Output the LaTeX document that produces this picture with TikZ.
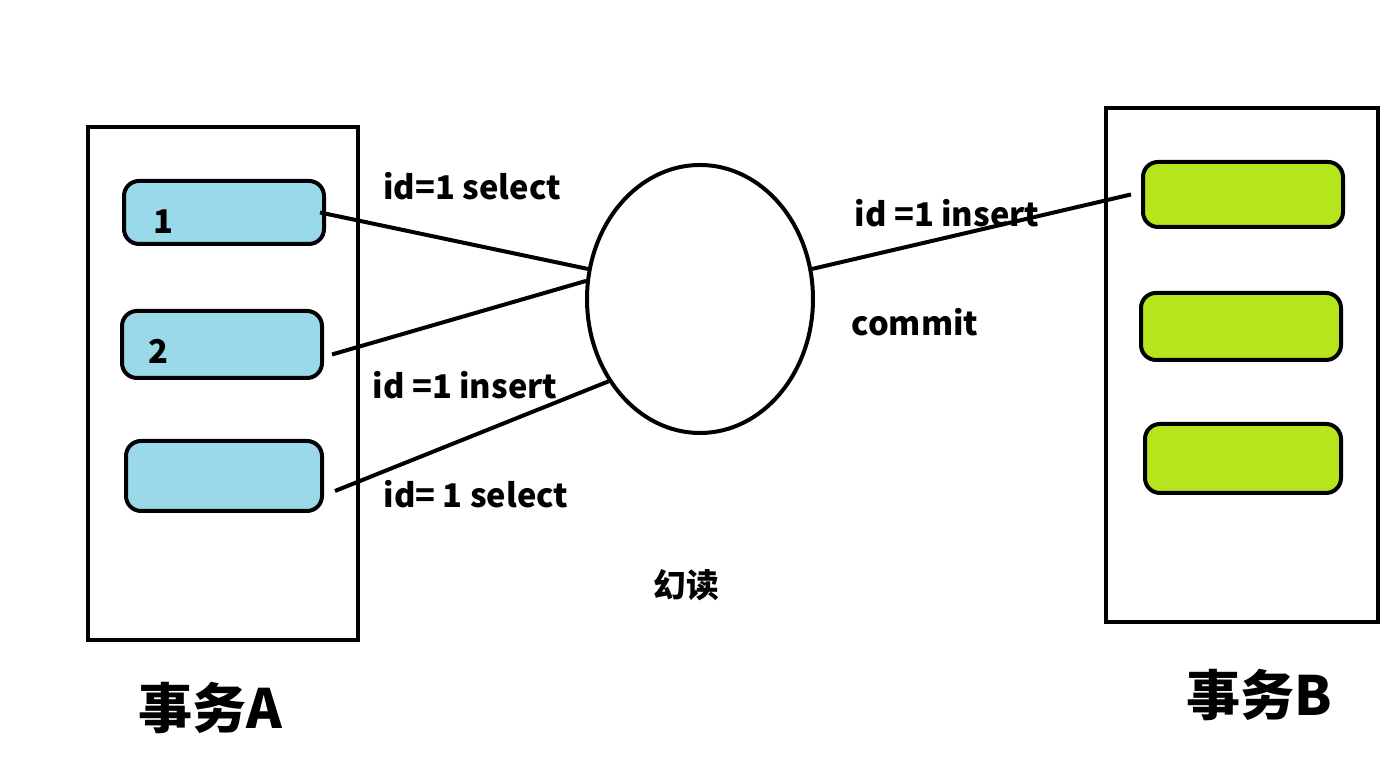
\documentclass[tikz,border=0pt]{standalone}
\usepackage{fontspec}
\setmainfont{Noto Sans CJK SC}
\definecolor{rowblue}{RGB}{153, 217, 234}
\definecolor{rowgreen}{RGB}{181, 230, 29}
\usetikzlibrary{shapes.geometric, positioning, calc}

\begin{document}
\begin{tikzpicture}[
    frame/.style={draw, line width=0.04cm, inner sep=0pt},
    row/.style={draw, line width=0.04cm, rounded corners=0.15cm, inner sep=0pt},
    link/.style={line width=0.04cm},
    lbl/.style={font=\fontsize{9.3pt}{10pt}\selectfont\bfseries}
  ]
  \useasboundingbox (0,0) rectangle (13.96,7.63);

  % === Transaction A (left) ===
  \node[frame, minimum width=2.70cm, minimum height=5.13cm] (txA) at (2.23, 3.795) {};
  \node[row, fill=rowblue, minimum width=2.00cm, minimum height=0.63cm] (a1) at (2.24, 5.505) {};
  \node[row, fill=rowblue, minimum width=2.00cm, minimum height=0.67cm] (a2) at (2.22, 4.185) {};
  \node[row, fill=rowblue, minimum width=1.96cm, minimum height=0.70cm] (a3) at (2.24, 2.87) {};
  \node[lbl] (n1) at (1.63, 5.41) {1};
  \node[lbl] (n2) at (1.58, 4.12) {2};
  \node[font=\fontsize{15.4pt}{17pt}\selectfont\bfseries] (nameA) at (2.10, 0.55) {事务A};

  % === Transaction B (right) ===
  \node[frame, minimum width=2.72cm, minimum height=5.14cm] (txB) at (12.42, 3.98) {};
  \node[row, fill=rowgreen, minimum width=2.00cm, minimum height=0.65cm] (b1) at (12.43, 5.685) {};
  \node[row, fill=rowgreen, minimum width=2.00cm, minimum height=0.67cm] (b2) at (12.41, 4.365) {};
  \node[row, fill=rowgreen, minimum width=1.96cm, minimum height=0.69cm] (b3) at (12.43, 3.045) {};
  \node[font=\fontsize{15.4pt}{17pt}\selectfont\bfseries] (nameB) at (12.59, 0.68) {事务B};

  % === Shared data (middle) ===
  \node[ellipse, draw, line width=0.04cm, minimum width=2.26cm, minimum height=2.68cm, inner sep=0pt] (db) at (7.00, 4.64) {};
  \node[font=\fontsize{9.3pt}{10pt}\selectfont\bfseries] (phantom) at (6.86, 1.78) {幻读};

  % Connectors
  \draw[link] ([xshift=-0.06cm]a1.east) -- (db.165);
  \draw[link] ([shift={(0.08,-0.10)}]a2.east) -- (db.171);
  \draw[link] ([shift={(0.11,-0.15)}]a3.east) -- (db.222);
  \draw[link] (db.15) -- ([xshift=-0.10cm]b1.west);

  % Labels
  \node[lbl] (s1) at (4.72, 5.77) {id=1 select};
  \node[lbl] (s2) at (4.65, 3.78) {id =1 insert};
  \node[lbl] (s3) at (4.76, 2.69) {id= 1 select};
  \node[lbl] (s4) at (9.47, 5.50) {id =1 insert};
  \node[lbl] (s5) at (9.15, 4.41) {commit};
\end{tikzpicture}
\end{document}
